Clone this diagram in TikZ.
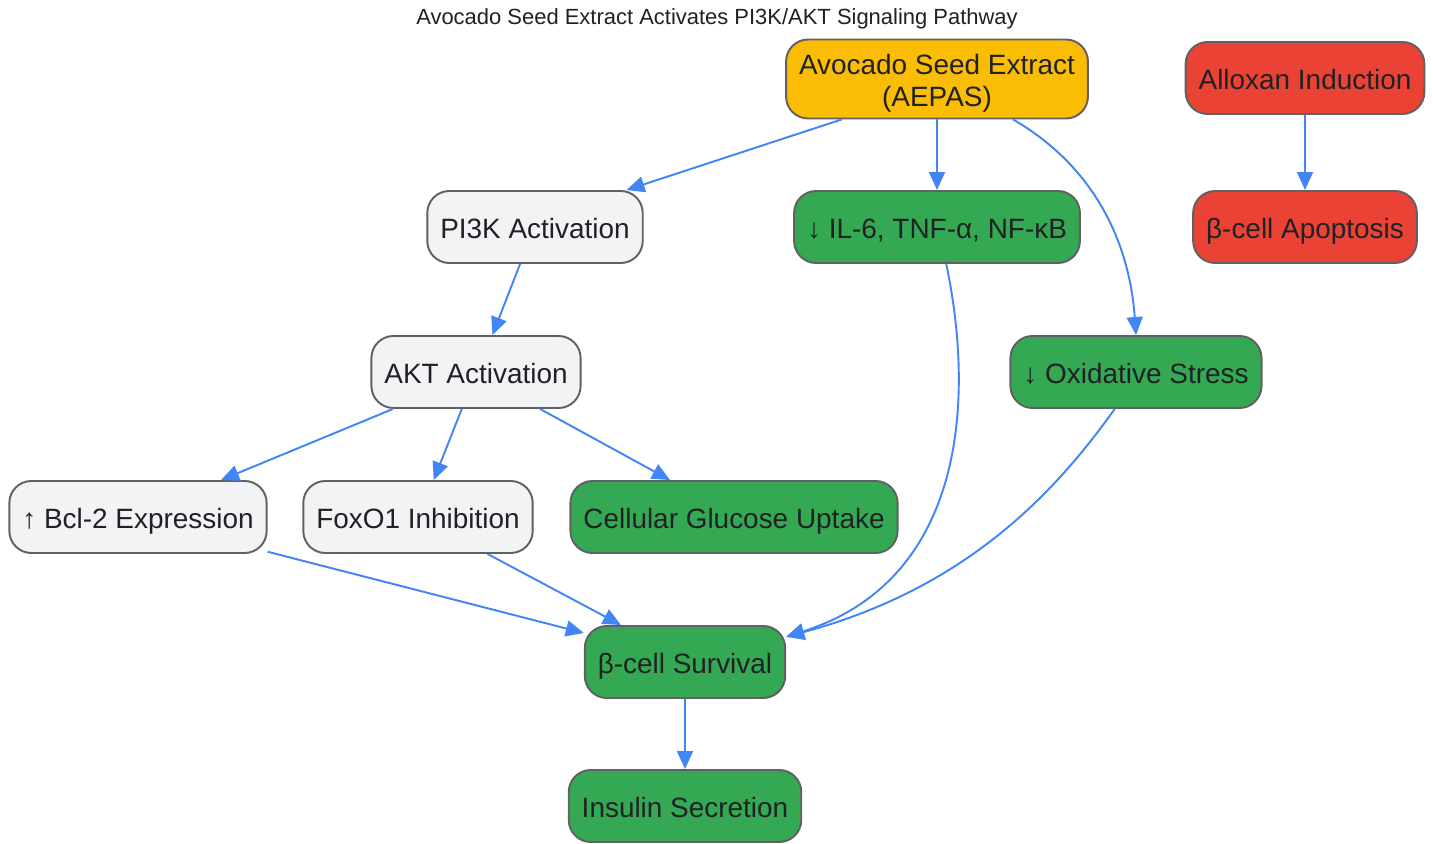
\documentclass[tikz,border=0pt]{standalone}
\usepackage{fontspec}
\setmainfont{Liberation Sans}
\usetikzlibrary{arrows.meta}
\definecolor{gyellow}{HTML}{FBBC04}
\definecolor{gred}{HTML}{EA4335}
\definecolor{ggreen}{HTML}{34A853}
\definecolor{ggrey}{HTML}{F1F3F4}
\definecolor{gblue}{HTML}{4285F4}
\definecolor{gborder}{HTML}{616161}
\definecolor{gtext}{HTML}{202124}

\begin{document}
\begin{tikzpicture}[x=0.02cm,y=-0.02cm,
  box/.style={draw=gborder,line width=1.1pt,rounded corners=0.44cm,
    minimum height=1.44cm,inner xsep=0.26cm,text=gtext,
    text height=0.5cm,text depth=0.04cm,
    font=\fontsize{15.9}{18.2}\selectfont,align=center},
  plain/.style={box,fill=ggrey},
  good/.style={box,fill=ggreen},
  bad/.style={box,fill=gred},
  source/.style={box,fill=gyellow,minimum height=1.58cm,
    text height=,text depth=},
  link/.style={draw=gblue,line width=1.1pt,-{Triangle[length=0.36cm,width=0.32cm]}}]
\useasboundingbox (0,0) rectangle (1433,844);
\node[text=gtext,font=\fontsize{12.5}{14}\selectfont] (title) at (717,19)
  {Avocado Seed Extract Activates PI3K/AKT Signaling Pathway};
% top row
\node[source] (aepas) at (937,79) {\rule{0pt}{0.57cm}Avocado Seed Extract\\(AEPAS)};
\node[bad] (allox) at (1305,78) {Alloxan Induction};
\node[plain] (pik) at (535,227) {PI3K Activation};
\node[good] (il) at (937,227) {↓ IL-6, TNF-α, NF-κB};
\node[bad] (apop) at (1305,227) {β-cell Apoptosis};
\node[plain] (akt) at (476,372) {AKT Activation};
\node[good] (oxid) at (1136,372) {↓ Oxidative Stress};
\node[plain] (bcl) at (138,517) {↑ Bcl-2 Expression};
\node[plain] (fox) at (418,517) {FoxO1 Inhibition};
\node[good] (glu) at (734,517) {Cellular Glucose Uptake};
\node[good] (surv) at (685,662) {β-cell Survival};
\node[good] (ins) at (685,806) {Insulin Secretion};
% links
\draw[link] (aepas.203) -- (pik.22);
\draw[link] (aepas) -- (il);
\draw[link] (aepas.332) .. controls (1100,170) and (1130,250) .. (oxid.north);
\draw[link] (allox) -- (apop);
\draw[link] (pik.248) -- (akt.66);
\draw[link] (akt.204) -- (bcl.24);
\draw[link] (akt.249) -- (fox.67);
\draw[link] (akt.330) -- (glu.150);
\draw[link] (bcl.345) -- (surv.164);
\draw[link] (fox.332) -- (surv.150);
\draw[link] (il.284) .. controls (975,400) and (965,580) .. (surv.14);
\draw[link] (oxid.240) .. controls (1050,500) and (960,590) .. (surv.14);
\draw[link] (surv) -- (ins);
\end{tikzpicture}
\end{document}
